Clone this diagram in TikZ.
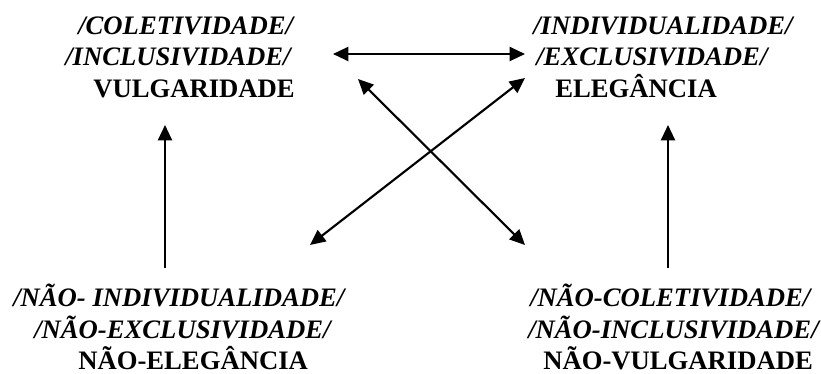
\documentclass[tikz,border=0pt]{standalone}
\usepackage{fontspec}
\setmainfont{Liberation Serif}
\usetikzlibrary{arrows.meta}
\begin{document}
\begin{tikzpicture}[x=0.75pt,y=-0.75pt,
  term/.style={inner sep=0pt,anchor=base west,font=\fontsize{20}{24}\selectfont\bfseries\itshape},
  lexeme/.style={inner sep=0pt,anchor=base west,font=\fontsize{20}{24}\selectfont\bfseries},
  rel/.style={line width=1.6pt,{Triangle[length=11.5pt,width=10.5pt]}-{Triangle[length=11.5pt,width=10.5pt]}},
  impl/.style={line width=1.6pt,-{Triangle[length=11.5pt,width=10.5pt]}}]
\useasboundingbox (0,0) rectangle (821,374);

% upper left: coletividade
\node[term]   (col)  at (78,35)  {/COLETIVIDADE/};
\node[term]   (inc)  at (65,66)  {/INCLUSIVIDADE/};
\node[lexeme] (vul)  at (93,98)  {VULGARIDADE};

% upper right: individualidade
\node[term]   (ind)  at (533,35) {/INDIVIDUALIDADE/};
\node[term]   (exc)  at (536,66) {/EXCLUSIVIDADE/};
\node[lexeme] (ele)  at (555,98) {ELEGÂNCIA};

% lower left: negation of individualidade
\node[term]   (nind) at (13,306) {/NÃO- INDIVIDUALIDADE/};
\node[term]   (nexc) at (34,338) {/NÃO-EXCLUSIVIDADE/};
\node[lexeme] (nele) at (78,369) {NÃO-ELEGÂNCIA};

% lower right: negation of coletividade
\node[term]   (ncol) at (530,306) {/NÃO-COLETIVIDADE/};
\node[term]   (ninc) at (528,338) {/NÃO-INCLUSIVIDADE/};
\node[lexeme] (nvul) at (543,369) {NÃO-VULGARIDADE};

% connector end points
\coordinate (hl) at (333,54);
\coordinate (hr) at (525,54);
\coordinate (dtl) at (358,79);
\coordinate (dtr) at (525,78);
\coordinate (dbl) at (310,245);
\coordinate (dbr) at (525,245);
\coordinate (vlt) at (165,125);
\coordinate (vlb) at (165,268);
\coordinate (vrt) at (668,125);
\coordinate (vrb) at (668,268);

% contrariety and contradiction
\draw[rel] (hl) -- (hr);
\draw[rel] (dtl) -- (dbr);
\draw[rel] (dtr) -- (dbl);

% complementarity
\draw[impl] (vlb) -- (vlt);
\draw[impl] (vrb) -- (vrt);
\end{tikzpicture}
\end{document}
